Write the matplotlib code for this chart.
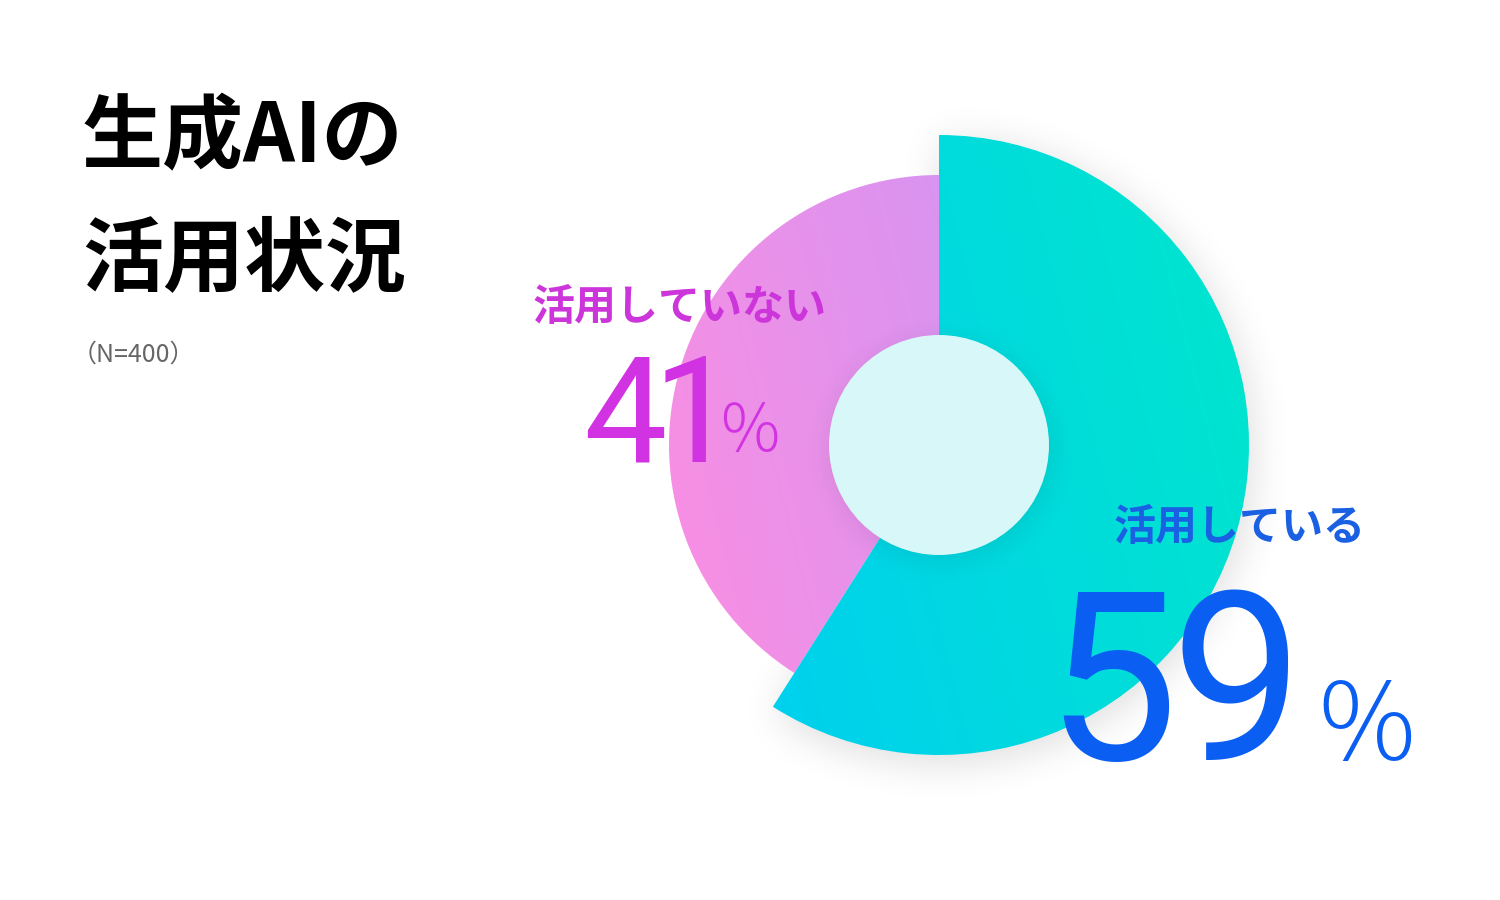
import numpy as np
import matplotlib
matplotlib.use('Agg')
import matplotlib.pyplot as plt
from matplotlib.patches import Wedge, Circle
from matplotlib.colors import to_rgb
from matplotlib import font_manager
from matplotlib.textpath import TextPath

# ---------------- data ----------------
labels = ['活用している', '活用していない']
values = [59, 41]
title_lines = ['生成AIの', '活用状況']
sample_note = '（N=400）'

# ---------------- styles ----------------
grad_colors = [('#00cbf6', '#00e6cc'), ('#fb8ee2', '#c298fa')]
label_colors = ['#1a60e2', '#cc35da']
number_colors = ['#0b5ef2', '#d233e2']
outer_radii = [310, 270]
inner_radius = 110
inner_color = '#d8f7f8'

W, H = 1500, 900
fig = plt.figure(figsize=(15, 9), dpi=100)
ax = fig.add_axes([0, 0, 1, 1])
ax.set_xlim(0, W)
ax.set_ylim(0, H)
ax.axis('off')


def Y(py):
    return H - py


PX2PT = 72 / 100.0
JP = ['Noto Sans CJK JP', 'DejaVu Sans']

cx, cy = 939, Y(445)


# ---------------- font lookup ----------------
def _wt(f):
    try:
        return int(f.weight)
    except Exception:
        return 400


def find_font(names, weight=400, exclude=()):
    for nm in names:
        hits = [f for f in font_manager.fontManager.ttflist
                if f.name == nm and 'italic' not in f.style.lower()
                and 'oblique' not in f.style.lower()
                and not any(e in f.fname.lower() for e in exclude)]
        if hits:
            hits.sort(key=lambda f: abs(_wt(f) - weight))
            return font_manager.FontProperties(fname=hits[0].fname)
    return None


# Helvetica-like digits with a foot-less "1"
num_prop = find_font(['Roboto', 'Inter', 'Open Sans', 'Liberation Sans', 'DejaVu Sans'],
                     400, exclude=('condensed', 'narrow', 'bold', 'black'))
if num_prop is None:
    num_prop = font_manager.FontProperties(family='DejaVu Sans')
pct_prop = find_font(['Noto Sans CJK JP', 'Roboto', 'Lato', 'Inter', 'Open Sans'], 300)
if pct_prop is None:
    pct_prop = font_manager.FontProperties(family='DejaVu Sans')
pct_char = '%'

# ---------------- shadow helpers ----------------
F = 3
gx = np.arange(0, W, F) + F / 2
gy = np.arange(0, H, F) + F / 2
GX, GY = np.meshgrid(gx, gy)


def wedge_mask(r, t1, span):
    dx = GX - cx
    dy = GY - cy
    rr = np.hypot(dx, dy)
    ang = np.degrees(np.arctan2(dy, dx))
    return ((rr <= r) & (((ang - t1) % 360) <= span)).astype(float)


def box1d(a, r, axis):
    pad = [(0, 0), (0, 0)]
    pad[axis] = (r + 1, r)
    ap = np.pad(a, pad, mode='constant')
    c = np.cumsum(ap, axis=axis)
    if axis == 0:
        return (c[2 * r + 1:] - c[:-2 * r - 1]) / (2 * r + 1)
    return (c[:, 2 * r + 1:] - c[:, :-2 * r - 1]) / (2 * r + 1)


def blur(a, r):
    for _ in range(3):
        a = box1d(a, r, 0)
        a = box1d(a, r, 1)
    return a


# ---------------- wedges ----------------
total = float(sum(values))
start = 90.0
wedge_specs = []
for v in values:
    span = v / total * 360.0
    wedge_specs.append((start - span, start, span))
    start -= span

# soft shadow for the main (largest) slice
t1, t2, span = wedge_specs[0]
m = wedge_mask(outer_radii[0], t1, span)
sh = blur(m, 6)
rgba = np.zeros(sh.shape + (4,))
rgba[..., 3] = 0.14 * sh
ax.imshow(rgba, extent=(0 + 3, W + 3, 0 - 7, H - 7), origin='lower',
          interpolation='bilinear', zorder=1)

for i, ((t1, t2, span), r) in enumerate(zip(wedge_specs, outer_radii)):
    wdg = Wedge((cx, cy), r, t1, t2, facecolor='none', edgecolor='none', zorder=2)
    ax.add_patch(wdg)
    n = 300
    xs = np.linspace(cx - r, cx + r, n)
    ys = np.linspace(cy - r, cy + r, n)
    XX, YY = np.meshgrid(xs, ys)
    d = np.array([1.0, 0.25])
    d /= np.linalg.norm(d)
    proj = (XX - (cx - r)) * d[0] + (YY - (cy - r)) * d[1]
    t = (proj - proj.min()) / (proj.max() - proj.min())
    c0 = np.array(to_rgb(grad_colors[i][0]))
    c1 = np.array(to_rgb(grad_colors[i][1]))
    img = c0[None, None, :] * (1 - t[..., None]) + c1[None, None, :] * t[..., None]
    im = ax.imshow(img, extent=(cx - r, cx + r, cy - r, cy + r), origin='lower',
                   interpolation='bilinear', zorder=2 + (1 - i) * 0.1)
    im.set_clip_path(wdg)

# inner circle with a faint shadow
cm = ((np.hypot(GX - cx, GY - cy)) <= inner_radius).astype(float)
csh = blur(cm, 4)
rgba2 = np.zeros(csh.shape + (4,))
rgba2[..., 3] = 0.09 * csh
ax.imshow(rgba2, extent=(0 + 2, W + 2, 0 - 5, H - 5), origin='lower',
          interpolation='bilinear', zorder=3)
ax.add_patch(Circle((cx, cy), inner_radius, facecolor=inner_color,
                    edgecolor='none', zorder=4))

# ---------------- title ----------------
ax.text(82, Y(162), title_lines[0], fontsize=81 * PX2PT, fontweight='bold',
        family=JP, color='#000000', ha='left', va='baseline', zorder=6)
ax.text(82, Y(284), title_lines[1], fontsize=81 * PX2PT, fontweight='bold',
        family=JP, color='#000000', ha='left', va='baseline', zorder=6)
ax.text(72, Y(362), sample_note, fontsize=25 * PX2PT, family=JP,
        color='#666666', ha='left', va='baseline', zorder=6)


def ink_text(ink_left, y, s, digit_h_px, color, gap_px):
    """Draw digits one by one so that their inked shapes sit gap_px apart;
    the font size is chosen so that the digits are digit_h_px tall."""
    ref = TextPath((0, 0), '0', size=100, prop=num_prop).get_extents()
    size_px = digit_h_px * 100.0 / ref.y1
    x_ink = ink_left
    for ch in s:
        ext = TextPath((0, 0), ch, size=size_px, prop=num_prop).get_extents()
        prop = num_prop.copy()
        prop.set_size(size_px * PX2PT)
        ax.text(x_ink - ext.x0, y, ch, fontproperties=prop, color=color,
                ha='left', va='baseline', zorder=6)
        x_ink += ext.width + gap_px


def pct_text(x, y, size_px, color):
    prop = pct_prop.copy()
    prop.set_size(size_px * PX2PT)
    ax.text(x, y, pct_char, fontproperties=prop, color=color,
            ha='left', va='baseline', zorder=6)


# ---------------- labels ----------------
# "not using" (values[1])
ax.text(680, Y(320), labels[1], fontsize=42 * PX2PT, fontweight='bold',
        family=JP, color=label_colors[1], ha='center', va='baseline', zorder=6)
ink_text(587, Y(462), f'{values[1]}', 107, number_colors[1], 2)
pct_text(720, Y(451), 66, number_colors[1])

# "using" (values[0])
ax.text(1240, Y(540), labels[0], fontsize=42 * PX2PT, fontweight='bold',
        family=JP, color=label_colors[0], ha='center', va='baseline', zorder=6)
ink_text(1063, Y(760), f'{values[0]}', 170, number_colors[0], 14)
pct_text(1318, Y(760), 108, number_colors[0])

fig.savefig('out.png', dpi=100, facecolor='white')
